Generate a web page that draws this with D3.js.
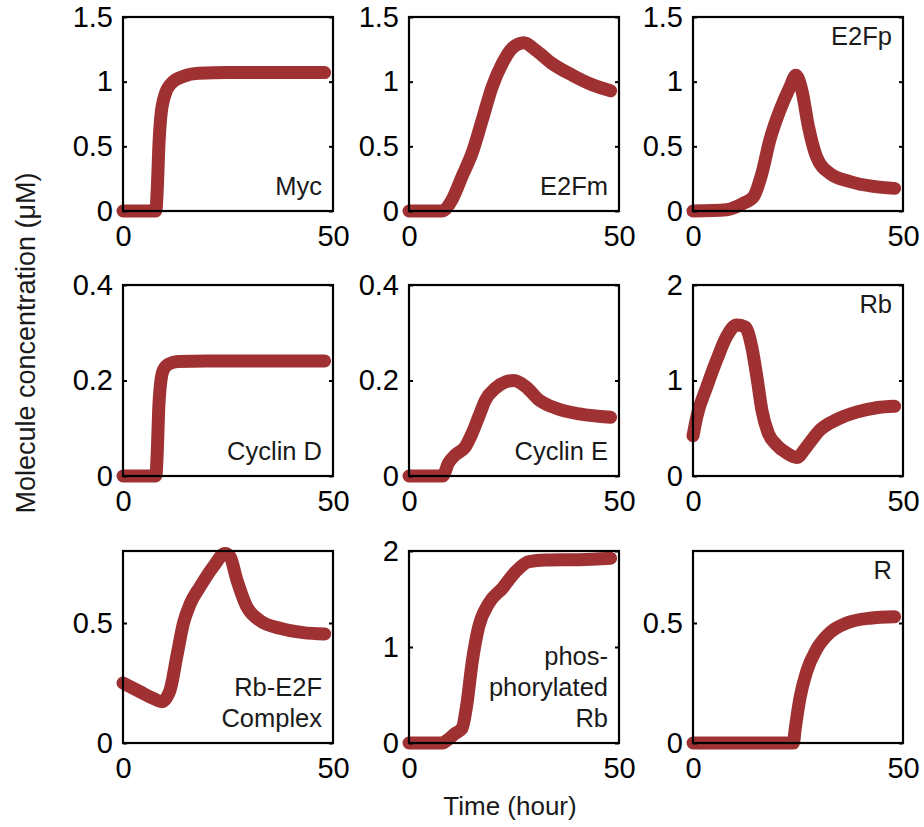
<!DOCTYPE html>
<html>
<head>
<meta charset="utf-8">
<script src="https://cdn.jsdelivr.net/npm/d3@7"></script>
<style>
  body { margin: 0; background: #fff; }
  svg { display: block; }
  text { font-family: "Liberation Sans", Arial, Helvetica, sans-serif; }
</style>
</head>
<body>
<div id="chart"></div>
<script>
// values, [time (hour), concentration (uM)]
const myc = [[0,0],[7.8,0],[8.2,0.2],[8.5,0.47],[9,0.73],[10,0.9],[11.6,0.99],[14.3,1.04],[18,1.065],[25,1.07],[35,1.07],[48,1.07]];
const e2fm = [[0,0],[7.9,0],[10.2,0.085],[12.6,0.265],[15,0.446],[17.4,0.7],[19.8,0.96],[22.2,1.14],[24.6,1.26],[27.4,1.3],[30.1,1.245],[34.1,1.14],[38.9,1.05],[43.7,0.975],[48,0.93]];
const e2fp = [[0,0],[8,0.01],[12,0.06],[14.4,0.11],[16.4,0.29],[18.3,0.55],[20.7,0.78],[23.1,0.96],[24.5,1.05],[25.9,0.935],[27.5,0.65],[29.4,0.42],[32.6,0.29],[37.4,0.227],[42.9,0.19],[48,0.175]];
const cyclinD = [[0,0],[7.8,0],[8.2,0.06],[8.5,0.14],[8.9,0.19],[9.6,0.222],[11,0.235],[13,0.24],[20,0.241],[48,0.241]];
const cyclinE = [[0,0],[8,0],[9.4,0.027],[11,0.044],[13.4,0.061],[15,0.089],[16.6,0.124],[18.2,0.159],[20.6,0.184],[23,0.197],[25,0.2],[27.8,0.187],[31,0.159],[35,0.142],[40.6,0.13],[48,0.123]];
const rb = [[0,0.42],[0.9,0.62],[3.3,0.935],[5.6,1.21],[8,1.46],[10.4,1.58],[12.4,1.56],[14,1.35],[15.2,1.04],[16.4,0.69],[17.9,0.45],[19.9,0.325],[22.3,0.24],[24.7,0.195],[27.1,0.31],[30.2,0.48],[34.2,0.59],[39,0.67],[43.7,0.715],[48,0.73]];
const rbE2f = [[0,0.25],[4,0.214],[7.2,0.186],[9.2,0.172],[11.2,0.22],[12.8,0.36],[14.4,0.5],[16,0.58],[18.3,0.65],[21.5,0.735],[24.3,0.79],[25.5,0.776],[27.1,0.68],[29.4,0.57],[32.6,0.51],[37.4,0.478],[42.9,0.46],[48,0.454]];
const phosRb = [[0,0],[8,0],[8.8,0.02],[11,0.1],[12.6,0.15],[13.8,0.41],[15,0.83],[16.6,1.21],[19,1.455],[22.2,1.61],[25.4,1.785],[28.6,1.89],[32.5,1.906],[40.5,1.91],[48,1.925]];
const rSignal = [[0,0],[23.9,0],[24.3,0.054],[25.5,0.19],[27.1,0.3],[29.4,0.39],[32.6,0.46],[36.6,0.5],[42.1,0.52],[48,0.526]];

const names = [["Myc"], ["E2Fm"], ["E2Fp"], ["Cyclin D"], ["Cyclin E"], ["Rb"],
               ["Rb-E2F", "Complex"], ["phos-", "phorylated", "Rb"], ["R"]];
const series = [myc, e2fm, e2fp, cyclinD, cyclinE, rb, rbE2f, phosRb, rSignal];
const yMaxes = [1.5, 1.5, 1.5, 0.4, 0.4, 2, 0.8, 2, 0.8];
const yTickVals = [[0,0.5,1,1.5],[0,0.5,1,1.5],[0,0.5,1,1.5],[0,0.2,0.4],[0,0.2,0.4],[0,1,2],[0,0.5],[0,1,2],[0,0.5]];
const xTickVals = [0, 50];
const xTitle = "Time (hour)";
const yTitle = "Molecule concentration (\u03bcM)";

const width = 924, height = 827;
const colX = [123, 409, 693], panelW = 210;
const rowY = [17, 285, 551], rowH = [194, 191, 192];
const labelTop = [false, false, true, false, false, true, false, false, true];
const lineColor = "#9f3133";

const svg = d3.select("#chart").append("svg")
  .attr("width", width)
  .attr("height", height);

const fmt = d3.format("~g");

series.forEach((data, i) => {
  const col = i % 3, row = Math.floor(i / 3);
  const w = panelW, h = rowH[row];
  const g = svg.append("g").attr("transform", `translate(${colX[col]},${rowY[row]})`);

  const x = d3.scaleLinear().domain([0, 50]).range([0, w]);
  const y = d3.scaleLinear().domain([0, yMaxes[i]]).range([h, 0]);

  const line = d3.line()
    .x(d => x(d[0]))
    .y(d => y(d[1]))
    .curve(d3.curveMonotoneX);

  g.append("path")
    .datum(data)
    .attr("d", line)
    .attr("fill", "none")
    .attr("stroke", lineColor)
    .attr("stroke-width", 13)
    .attr("stroke-linecap", "round")
    .attr("stroke-linejoin", "round");

  // inward ticks on both sides, labels on the left
  const left = g.append("g").call(d3.axisLeft(y).tickValues(yTickVals[i]).tickFormat(fmt).tickSize(-4).tickPadding(10));
  const right = g.append("g").attr("transform", `translate(${w},0)`)
    .call(d3.axisRight(y).tickValues(yTickVals[i]).tickFormat("").tickSize(-4));
  const bottom = g.append("g").attr("transform", `translate(0,${h})`)
    .call(d3.axisBottom(x).tickValues(xTickVals).tickFormat(fmt).tickSize(0).tickPadding(14));

  [left, right, bottom].forEach(a => {
    a.select(".domain").remove();
    a.selectAll(".tick line").attr("stroke", "#000").attr("stroke-width", 2);
    a.selectAll("text").attr("font-size", 29).attr("fill", "#000")
      .attr("font-family", "Liberation Sans, Arial, sans-serif");
  });

  g.append("rect")
    .attr("width", w)
    .attr("height", h)
    .attr("fill", "none")
    .attr("stroke", "#000")
    .attr("stroke-width", 2.2);

  // panel name, right aligned
  const lines = names[i];
  const lineGap = 31;
  lines.forEach((t, k) => {
    const by = labelTop[i] ? 28 + k * lineGap : h - 16 - (lines.length - 1 - k) * lineGap;
    g.append("text")
      .attr("x", w - 11)
      .attr("y", by)
      .attr("text-anchor", "end")
      .attr("font-size", 25.5)
      .attr("fill", "#1a1a1a")
      .text(t);
  });
});

svg.append("text")
  .attr("x", 510)
  .attr("y", 815)
  .attr("text-anchor", "middle")
  .attr("font-size", 26)
  .attr("fill", "#1a1a1a")
  .text(xTitle);

svg.append("text")
  .attr("transform", "translate(35,343) rotate(-90)")
  .attr("text-anchor", "middle")
  .attr("font-size", 27)
  .attr("fill", "#1a1a1a")
  .text(yTitle);
</script>
</body>
</html>
